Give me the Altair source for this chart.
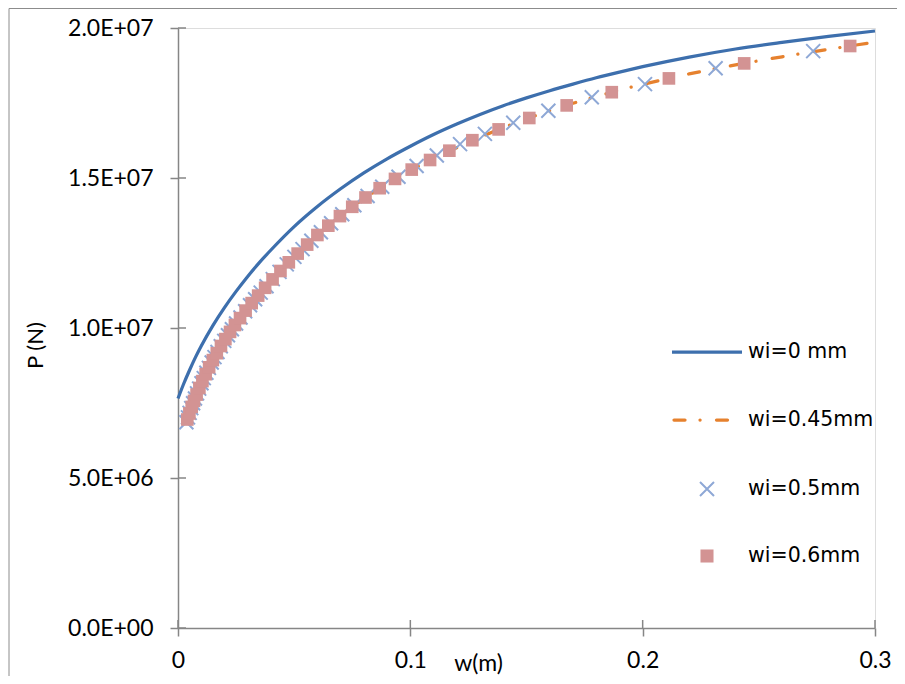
import altair as alt
import pandas as pd

# ---------------- data ----------------
# wi = 0 mm (solid blue line); P in units of 1e6 N
blue_w = [0.0, 0.0025, 0.005, 0.0075, 0.01, 0.015, 0.02, 0.025, 0.03, 0.035, 0.04,
          0.05, 0.06, 0.07, 0.08, 0.09, 0.10, 0.11, 0.12, 0.13, 0.14, 0.15, 0.16,
          0.17, 0.18, 0.19, 0.20, 0.22, 0.24, 0.26, 0.28, 0.30]
blue_p = [7.65, 8.15, 8.6, 9.02, 9.4, 10.08, 10.68, 11.22, 11.72, 12.18, 12.6,
          13.38, 14.05, 14.64, 15.17, 15.64, 16.06, 16.45, 16.8, 17.12, 17.41, 17.67, 17.91,
          18.13, 18.34, 18.53, 18.71, 19.03, 19.3, 19.52, 19.72, 19.9]

# wi = 0.45 mm (orange dash-dot line)
orange_w = [0.004, 0.01, 0.02, 0.03, 0.04, 0.05, 0.06, 0.07, 0.08, 0.09, 0.10, 0.11,
            0.12, 0.13, 0.14, 0.15, 0.16, 0.17, 0.18, 0.19, 0.20, 0.22, 0.24, 0.26,
            0.28, 0.30]
orange_p = [6.95, 8.14, 9.58, 10.70, 11.56, 12.37, 13.10, 13.75, 14.31, 14.81, 15.25, 15.65,
            16.01, 16.36, 16.68, 16.97, 17.24, 17.49, 17.71, 17.93, 18.12, 18.47, 18.77, 19.04,
            19.29, 19.53]

# wi = 0.5 mm (x markers)
xm_w = [0.0036, 0.0043, 0.0050, 0.0057, 0.0065, 0.0073, 0.0082, 0.0091, 0.0101, 0.0111,
        0.0122, 0.0133, 0.0145, 0.0157, 0.0170, 0.0184, 0.0199, 0.0215, 0.0232, 0.0250,
        0.0269, 0.0289, 0.0310, 0.0332, 0.0356, 0.0381, 0.0408, 0.0437, 0.0468, 0.0501,
        0.0536, 0.0574, 0.0615, 0.0659, 0.0707, 0.0759, 0.0816, 0.0879, 0.0949, 0.1027,
        0.1114, 0.1214, 0.1321, 0.1443, 0.1594, 0.1781, 0.2010, 0.2314, 0.2734]
xm_p = [6.86, 7.02, 7.17, 7.33, 7.49, 7.65, 7.82, 7.98, 8.16, 8.33,
        8.51, 8.67, 8.85, 9.03, 9.20, 9.39, 9.57, 9.76, 9.96, 10.15,
        10.35, 10.56, 10.76, 10.96, 11.18, 11.39, 11.63, 11.87, 12.12, 12.37,
        12.63, 12.91, 13.19, 13.49, 13.79, 14.09, 14.40, 14.71, 15.04, 15.40,
        15.75, 16.13, 16.47, 16.84, 17.24, 17.69, 18.13, 18.66, 19.23]

# wi = 0.6 mm (square markers)
sq_w = [0.0040, 0.0049, 0.0059, 0.0069, 0.0080, 0.0092, 0.0105, 0.0119, 0.0134, 0.0150,
        0.0167, 0.0185, 0.0204, 0.0224, 0.0245, 0.0267, 0.0291, 0.0317, 0.0345, 0.0375,
        0.0407, 0.0441, 0.0477, 0.0515, 0.0556, 0.0600, 0.0647, 0.0697, 0.0750, 0.0807,
        0.0868, 0.0934, 0.1006, 0.1085, 0.1168, 0.1267, 0.1380, 0.1512, 0.1673, 0.1867,
        0.2113, 0.2437, 0.2893]
sq_p = [6.95, 7.15, 7.37, 7.57, 7.78, 8.0, 8.23, 8.46, 8.69, 8.93,
        9.16, 9.40, 9.63, 9.87, 10.10, 10.33, 10.58, 10.83, 11.08, 11.34,
        11.62, 11.90, 12.19, 12.48, 12.78, 13.10, 13.41, 13.73, 14.04, 14.35,
        14.66, 14.97, 15.28, 15.60, 15.91, 16.26, 16.62, 17.0, 17.42, 17.86,
        18.32, 18.82, 19.40]

series_names = ["wi=0 mm", "wi=0.45mm", "wi=0.5mm", "wi=0.6mm"]

y_tick_values = [0, 5e6, 1e7, 1.5e7, 2e7]
y_tick_labels = ["0.0E+00", "5.0E+06", "1.0E+07", "1.5E+07", "2.0E+07"]
x_tick_values = [0, 0.1, 0.2, 0.3]
x_tick_labels = ["0", "0.1", "0.2", "0.3"]

# ---------------- styling ----------------
W, H = 697, 600
AXIS_GRAY = "#868686"
BLUE = "#3D6FAD"
ORANGE = "#E6812E"
XBLUE = "#8EA8D6"
PINK = "#D39393"
LABEL_FONT = "Lato"
LEGEND_FONT = "DejaVu Sans"
DASH = [11, 15, 0.1, 16.4]
X_SHAPE = "M-1,-1L1,1M1,-1L-1,1"


def table(ws, ps):
    return pd.DataFrame({"w": ws, "P": [p * 1e6 for p in ps]})


def expr(values, labels):
    e = ""
    for v, l in zip(values, labels):
        e += f"abs(datum.value - {v}) < 1e-9 * (1 + abs({v})) ? '{l}' : "
    return e + "''"


xs = alt.Scale(domain=[0, 0.3], nice=False, zero=False)
ys = alt.Scale(domain=[0, 2e7], nice=False, zero=False)

x_axis = alt.Axis(values=x_tick_values, labelExpr=expr(x_tick_values, x_tick_labels),
                  grid=False, domainColor=AXIS_GRAY, domainWidth=1.5, tickColor=AXIS_GRAY,
                  tickWidth=1.5, tickSize=8, labelPadding=13, labelFont=LABEL_FONT,
                  labelFontSize=23, labelColor="#000000", labelFlush=False,
                  labelOverlap=False, title="w(m)",
                  titleFont=LABEL_FONT, titleFontSize=23, titleFontWeight="normal",
                  titleColor="#000000", titleX=300, titleY=35, titleBaseline="middle",
                  titleAnchor="middle", titleAlign="center")
y_axis = alt.Axis(values=y_tick_values, labelExpr=expr(y_tick_values, y_tick_labels),
                  grid=False, domainColor=AXIS_GRAY, domainWidth=1.5, tickColor=AXIS_GRAY,
                  tickWidth=1.5, tickSize=8, labelPadding=17, labelFont=LABEL_FONT,
                  labelFontSize=23, labelColor="#000000", labelFlush=False,
                  labelOverlap=False, title="P (N)",
                  titleFont=LABEL_FONT, titleFontSize=22, titleFontWeight="normal",
                  titleColor="#000000", titleX=-143, titleY=317, titleAngle=-90,
                  titleBaseline="middle", titleAlign="center", titleAnchor="middle")

blue_df = table(blue_w, blue_p)
orange_df = table(orange_w, orange_p)
xm_df = table(xm_w, xm_p)
sq_df = table(sq_w, sq_p)

frame = alt.Chart(pd.DataFrame({"a": [0]})).mark_rect(
    filled=False, stroke="#8C8C8C", strokeWidth=1
).encode(x=alt.value(-169), x2=alt.value(1200), y=alt.value(-19.5), y2=alt.value(1200))

blue_line = alt.Chart(blue_df).mark_line(color=BLUE, strokeWidth=3.25, interpolate="monotone").encode(
    x=alt.X("w:Q", scale=xs, axis=x_axis),
    y=alt.Y("P:Q", scale=ys, axis=y_axis),
)
orange_line = alt.Chart(orange_df).mark_line(
    color=ORANGE, strokeWidth=3.25, strokeDash=DASH, strokeCap="round", interpolate="monotone"
).encode(x=alt.X("w:Q", scale=xs), y=alt.Y("P:Q", scale=ys))
x_marks = alt.Chart(xm_df).mark_point(
    shape=X_SHAPE, filled=False, stroke=XBLUE, strokeWidth=2, size=196, opacity=1
).encode(x=alt.X("w:Q", scale=xs), y=alt.Y("P:Q", scale=ys))
sq_marks = alt.Chart(sq_df).mark_point(
    shape="square", filled=True, fill=PINK, size=160, opacity=1
).encode(x=alt.X("w:Q", scale=xs), y=alt.Y("P:Q", scale=ys))

# inner halves of the crossing tick marks
ytick_in = alt.Chart(pd.DataFrame({"v": y_tick_values})).mark_rule(
    color=AXIS_GRAY, strokeWidth=1.5
).encode(y=alt.Y("v:Q", scale=ys), x=alt.value(0), x2=alt.value(8))
xtick_in = alt.Chart(pd.DataFrame({"v": x_tick_values})).mark_rule(
    color=AXIS_GRAY, strokeWidth=1.5
).encode(x=alt.X("v:Q", scale=xs), y=alt.value(H - 8), y2=alt.value(H))

# legend (drawn by hand, Excel style)
leg_y = [324, 392, 461, 528]
leg_layers = []
one = pd.DataFrame({"a": [0]})
leg_layers.append(alt.Chart(one).mark_rule(color=BLUE, strokeWidth=3.25).encode(
    x=alt.value(494), x2=alt.value(564), y=alt.value(leg_y[0])))
leg_layers.append(alt.Chart(one).mark_rule(color=ORANGE, strokeWidth=3.25, strokeDash=DASH,
                                           strokeCap="round").encode(
    x=alt.value(496), x2=alt.value(564), y=alt.value(leg_y[1])))
leg_layers.append(alt.Chart(one).mark_point(shape=X_SHAPE, filled=False, stroke=XBLUE,
                                            strokeWidth=2, size=196, opacity=1).encode(
    x=alt.value(529), y=alt.value(leg_y[2])))
leg_layers.append(alt.Chart(one).mark_point(shape="square", filled=True, fill=PINK,
                                            size=170, opacity=1).encode(
    x=alt.value(529), y=alt.value(leg_y[3])))
for name, yy in zip(series_names, leg_y):
    leg_layers.append(alt.Chart(pd.DataFrame({"t": [name]})).mark_text(
        align="left", baseline="middle", font=LEGEND_FONT, fontSize=20.5, color="#000000"
    ).encode(x=alt.value(570), y=alt.value(yy), text="t:N"))

chart = alt.layer(
    frame, blue_line, orange_line, x_marks, sq_marks, ytick_in, xtick_in, *leg_layers
).properties(
    width=W, height=H,
    padding={"left": 170, "top": 20, "right": 22, "bottom": 48},
    autosize=alt.AutoSizeParams(type="none"),
).configure_view(stroke=None).configure(background="white")

chart.save("out.html", embed_options={"renderer": "svg", "actions": False})
